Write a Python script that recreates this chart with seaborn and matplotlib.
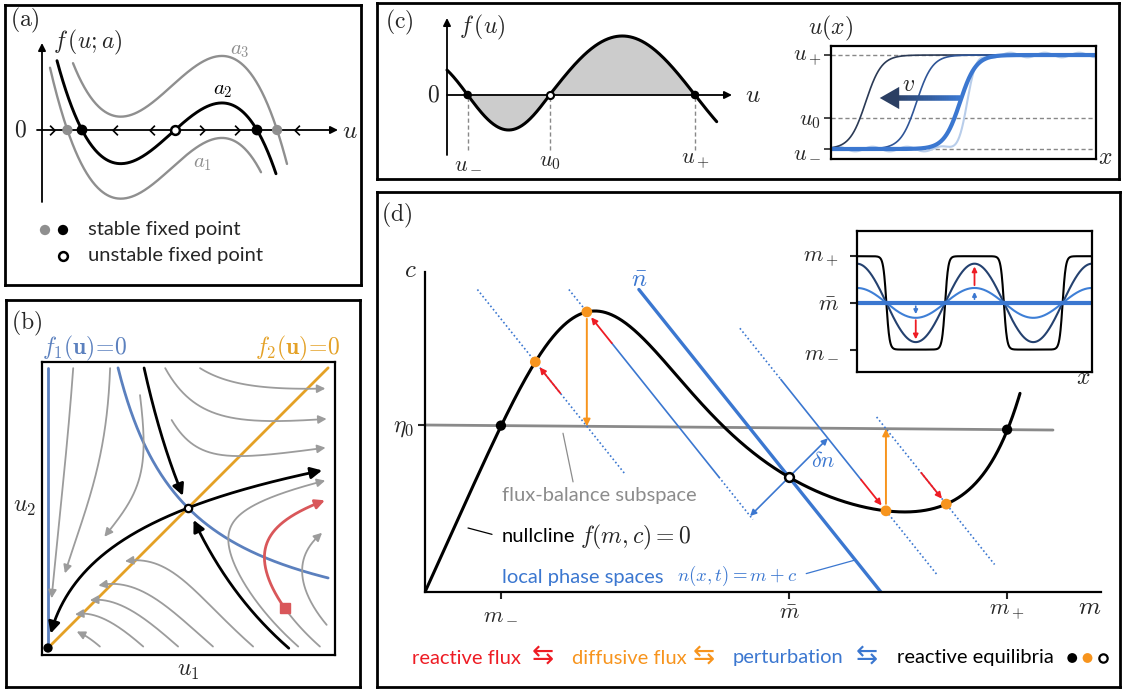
import numpy as np
import matplotlib
matplotlib.use("Agg")
import matplotlib.pyplot as plt
from matplotlib.path import Path
from matplotlib.collections import LineCollection
from matplotlib.colors import to_rgb
import seaborn as sns

# ---------------- values ----------------
# (a) f(u;a) = -k (u-r1)(u-r2)(u-r3) + a
cubic_roots = [40.0, 133.0, 215.0]
cubic_gain = 1.175e-4
a_values = [-35.0, 0.0, 47.0]                 # a1, a2, a3
a_ranges = [(8, 219), (15, 234), (31, 245)]
flow_marks = [10, 73, 110, 160, 195, 255]

# (b) phase plane, f1 = a u1 (u1 u2 - s^2), f2 = b (u1 - u2)
rate_a, rate_b = 5.0, 1.0
saddle = 0.478
gray_starts = [(0.086, 0.955), (0.212, 0.955), (0.314, 0.863),
               (0.519, 0.955), (0.400, 0.955), (0.422, 0.778),
               (0.177, 0.005), (0.325, 0.005), (0.444, 0.005), (0.563, 0.005), (0.700, 0.005),
               (0.854, 0.005), (0.951, 0.079)]
gray_stops = [(1, -1, 0.17), (1, -1, 0.255), (1, -1, 0.38),
              (0, 1, 0.945), (0, 1, 0.945), (0, 1, 0.945),
              (0, -1, 0.098), (0, -1, 0.092), (0, -1, 0.143), (0, -1, 0.172), (0, -1, 0.263),
              (0, 1, 0.945), (0, 1, 0.934)]
red_start = (0.928, 0.005)
red_switch_u2 = 0.135
red_stop = (0, 1, 0.945)

# (c) bistable f(u) and travelling fronts
c_roots = [20.7, 102.6, 248.0]               # u-, u0, u+
c_humps = [-35.0, 59.0]
front_centers = [0.131, 0.323, 0.487]
front_width = 0.06
u_levels = [0.0, 0.33, 1.0]                   # u-, u0, u+

# (d) nullcline c*(m) = A m/(1+(m/L)^4) + b m + C exp((m-m1)/s)
null_A, null_L, null_b = 1.7246, 2.21, 0.045
null_C, null_m1, null_s = 0.843, 5.83, 0.41
eta0, eta_slope = 1.336, -0.0064
m_bar = 3.64
delta_n = 0.70
red_len = 0.25
inset_amps = [0.0, 0.32, 0.84]
inset_steep = 6.0

# ---------------- style ----------------
W, H = 1125, 690
sns.set_style("white")
plt.rcParams["font.family"] = ["Lato", "DejaVu Sans"]
plt.rcParams["mathtext.fontset"] = "cm"

GRAY = "#8f8f8f"
BLUE_B, ORANGE_B, RED_B, GRAY_B = "#5b80be", "#e4a126", "#d9575a", "#9c9c9c"
BLUE, ORANGE, RED = "#3b77d0", "#f7941d", "#ee1c24"

fig = plt.figure(figsize=(W / 100, H / 100), dpi=100)


def pbox(x0, y0, x1, y1):
    return [x0 / W, 1 - y1 / H, (x1 - x0) / W, (y1 - y0) / H]


def ftext(x, y, s, **kw):
    kw.setdefault("ha", "center")
    kw.setdefault("va", "center")
    return fig.text(x / W, 1 - y / H, s, **kw)


def panel(x0, y0, x1, y1, lw=2.0):
    ax = fig.add_axes(pbox(x0, y0, x1, y1))
    ax.set_xticks([])
    ax.set_yticks([])
    for sp in ax.spines.values():
        sp.set_visible(True)
        sp.set_linewidth(lw)
        sp.set_color("black")
    return ax


def arrow(ax, tip, tail, color, lw=1.2, ms=10, sA=0, sB=0):
    ax.annotate("", xy=tip, xytext=tail,
                arrowprops=dict(arrowstyle="-|>", color=color, lw=lw, mutation_scale=ms,
                                shrinkA=sA, shrinkB=sB))


def line(ax, x, y, **kw):
    sns.lineplot(x=np.asarray(x), y=np.asarray(y), sort=False, estimator=None, ax=ax, **kw)


# ================= (a) =================
axA = panel(5, 5, 361, 285)


def f_a(u, a):
    r1, r2, r3 = cubic_roots
    return -cubic_gain * (u - r1) * (u - r2) * (u - r3) + a


arrow(axA, (296, 0), (-5, 0), "black", lw=1.3, ms=11)
arrow(axA, (0, 87), (0, -72), "black", lw=1.3, ms=11)

for a, (lo, hi), col, lw in zip(a_values, a_ranges, [GRAY, "black", GRAY], [1.7, 2.1, 1.7]):
    u = np.linspace(lo, hi, 300)
    line(axA, u, f_a(u, a), color=col, lw=lw)

chev_r = Path([(-0.5, 1), (0.5, 0), (-0.5, -1)], [Path.MOVETO, Path.LINETO, Path.LINETO])
chev_l = Path([(0.5, 1), (-0.5, 0), (0.5, -1)], [Path.MOVETO, Path.LINETO, Path.LINETO])
marks = np.array(flow_marks, float)
for um, d in zip(marks, np.sign(f_a(marks, 0.0))):
    axA.plot(um, 0, marker=chev_r if d > 0 else chev_l, ms=7, mfc="none", mec="black",
             mew=1.2, ls="none", zorder=4)


def real_roots(a):
    coeffs = -cubic_gain * np.poly(cubic_roots)
    coeffs[-1] += a
    r = np.roots(coeffs)
    return np.sort(r[np.abs(r.imag) < 1e-6].real)


gray_fp = np.concatenate([real_roots(a_values[0]), real_roots(a_values[2])])
black_fp = real_roots(a_values[1])
sns.scatterplot(x=gray_fp, y=np.zeros_like(gray_fp), s=55, color=GRAY, edgecolor="none", zorder=6, ax=axA)
sns.scatterplot(x=black_fp[[0, 2]], y=[0, 0], s=60, color="black", edgecolor="none", zorder=6, ax=axA)
sns.scatterplot(x=black_fp[[1]], y=[0], s=40, color="white", edgecolor="black", linewidth=1.8, zorder=6, ax=axA)

axA.text(161, -33, "$a_1$", color=GRAY, fontsize=15, ha="center", va="center")
axA.text(181, 40, "$a_2$", color="black", fontsize=15, ha="center", va="center")
axA.text(198, 80, "$a_3$", color=GRAY, fontsize=15, ha="center", va="center")
axA.text(11, 88, "$f\\,(u;a)$", fontsize=17, ha="left", va="center")
axA.text(-22, 0, "$0$", fontsize=17, ha="center", va="center")
axA.text(300, 0, "$u$", fontsize=18, ha="left", va="center")

sns.scatterplot(x=[3, 21], y=[-100, -100], s=55, color=[GRAY, "black"], edgecolor="none", ax=axA)
sns.scatterplot(x=[21], y=[-126], s=40, color="white", edgecolor="black", linewidth=1.8, ax=axA)
axA.text(46, -100, "stable fixed point", fontsize=14.5, ha="left", va="center")
axA.text(46, -126, "unstable fixed point", fontsize=14.5, ha="left", va="center")
axA.set_xlim(-37, 319)
axA.set_ylim(-155, 125)
ftext(25, 20, "$\\mathrm{(a)}$", fontsize=17)

# ================= (b) =================
panel(6, 300, 360, 687)
axB = panel(42, 362, 335, 655, lw=1.6)


def flow(p):
    return np.array([rate_a * p[0] * (p[0] * p[1] - saddle ** 2), rate_b * (p[0] - p[1])])


def rk4(p, h):
    k1 = flow(p)
    k2 = flow(p + h / 2 * k1)
    k3 = flow(p + h / 2 * k2)
    k4 = flow(p + h * k3)
    return p + h / 6 * (k1 + 2 * k2 + 2 * k3 + k4)


def stop_at(axis, direction, value):
    return lambda q, dq: direction * (q[axis] - value) >= 0 and direction * dq[axis] > 0


def trace(start, stop, h=0.003, nmax=10000):
    pts = [np.asarray(start, float)]
    for _ in range(nmax):
        q = rk4(pts[-1], h)
        pts.append(q)
        if stop(q, q - pts[-2]):
            break
    return np.array(pts)


def draw_traj(ax, pts, color, lw, head, back=0.03):
    d = np.hypot(*(pts - pts[-1]).T)
    k = int(np.argmax(d < back))
    line(ax, pts[:k + 1, 0], pts[:k + 1, 1], color=color, lw=lw)
    arrow(ax, pts[-1], pts[k], color, lw=lw, ms=head)


top = 0.956
line(axB, [0, 0], [0, top], color=BLUE_B, lw=2.0)
hyp = np.linspace(saddle ** 2 / top, top, 200)
line(axB, hyp, saddle ** 2 / hyp, color=BLUE_B, lw=2.0)
line(axB, [0, top], [0, top], color=ORANGE_B, lw=2.0)

for start, stop in zip(gray_starts, gray_stops):
    draw_traj(axB, trace(start, stop_at(*stop)), GRAY_B, 1.3, 12)

red_path = trace(red_start, stop_at(*red_stop))
split = int(np.argmax(red_path[:, 1] >= red_switch_u2))
line(axB, red_path[:split + 1, 0], red_path[:split + 1, 1], color=GRAY_B, lw=1.3)
draw_traj(axB, red_path[split:], RED_B, 2.0, 14)
axB.plot(*red_path[split], marker="s", ms=6.5, color=RED_B, zorder=5)

jac = np.array([[rate_a * saddle ** 2, rate_a * saddle ** 2], [rate_b, -rate_b]])
evals, evecs = np.linalg.eig(jac)
v_unst = evecs[:, np.argmax(evals)]
v_stab = evecs[:, np.argmin(evals)]
sp = np.array([saddle, saddle])
for sgn in (1, -1):
    v = sgn * v_stab * (1 if v_stab[1] > 0 else -1)
    stop = stop_at(1, 1, 0.955) if sgn > 0 else stop_at(1, -1, 0.0)
    pts = trace(sp + 1e-4 * v, stop, h=-0.003)[::-1]
    pts = pts[np.hypot(*(pts - sp).T) > 0.045]
    draw_traj(axB, pts, "black", 2.0, 17)
for sgn in (1, -1):
    v = sgn * v_unst * (1 if v_unst[0] > 0 else -1)
    stop = stop_at(0, 1, 0.934) if sgn > 0 else (lambda q, dq: np.hypot(*q) < 0.05)
    draw_traj(axB, trace(sp + 1e-4 * v, stop), "black", 2.0, 17)

sns.scatterplot(x=[0], y=[0], s=45, color="black", edgecolor="none", zorder=6, ax=axB)
sns.scatterplot(x=[saddle], y=[saddle], s=28, color="white", edgecolor="black", linewidth=1.6, zorder=6, ax=axB)
axB.set_xlim(-0.0205, 0.9795)
axB.set_ylim(-0.0239, 0.976)
axB.set_xticks([])
axB.set_yticks([])
ftext(27, 323, "$\\mathrm{(b)}$", fontsize=17)
ftext(42, 348, "$f_1(\\mathbf{u})\\!=\\!0$", color=BLUE_B, fontsize=17, ha="left")
ftext(340, 348, "$f_2(\\mathbf{u})\\!=\\!0$", color=ORANGE_B, fontsize=17, ha="right")
ftext(25, 508, "$u_2$", fontsize=17)
ftext(188, 672, "$u_1$", fontsize=17)

# ================= (c) =================
axC = panel(377, 3, 1119, 179)
u = np.linspace(0, 269.7, 500)
seg = np.where(u < c_roots[1], 0, 1)
lo = np.array(c_roots)[seg]
hi = np.array(c_roots)[seg + 1]
fu = np.array(c_humps)[seg] * np.sin(np.pi * (u - lo) / (hi - lo))
axC.fill_between(u, fu, 0, where=(u >= c_roots[0]) & (u <= c_roots[2]), color="#cccccc", lw=0)
arrow(axC, (285, 0), (0, 0), "black", lw=1.3, ms=11)
arrow(axC, (0, 77), (0, -60), "black", lw=1.3, ms=11)
line(axC, u, fu, color="black", lw=2.2)
axC.vlines(c_roots, -55, 0, colors="#888888", linestyles=(0, (3, 2)), lw=1.0)
sns.scatterplot(x=[c_roots[0], c_roots[2]], y=[0, 0], s=38, color="black", edgecolor="none", zorder=6, ax=axC)
sns.scatterplot(x=[c_roots[1]], y=[0], s=26, color="white", edgecolor="black", linewidth=1.5, zorder=6, ax=axC)
for r, lab in zip(c_roots, ["$u_-$", "$u_0$", "$u_+$"]):
    axC.text(r, -67, lab, fontsize=16, ha="center", va="center")
axC.text(-14, 0, "$0$", fontsize=17, ha="center", va="center")
axC.text(298, 0, "$u$", fontsize=18, ha="left", va="center")
axC.text(12, 68, "$f\\,(u)$", fontsize=17, ha="left", va="center")
axC.set_xlim(-70, 672)
axC.set_ylim(-84, 92)
ftext(399, 22, "$\\mathrm{(c)}$", fontsize=17)

axU = panel(831, 46, 1096, 159, lw=1.6)
x = np.linspace(0, 1, 600)
axU.hlines(u_levels, 0, 1, colors="#888888", linestyles=(0, (3, 2)), lw=1.0)
ripple = 0.025 * np.sin(2 * np.pi * (x - 0.514) / 0.13)
line(axU, x, (1 + np.tanh((x - 0.514) / 0.035)) / 2 + ripple, color="#b8cdea", lw=1.5)
for xc, col, lw in zip(front_centers, ["#2b3a55", "#2f5597", BLUE], [1.2, 1.2, 3.0]):
    line(axU, x, (1 + np.tanh((x - xc) / front_width)) / 2, color=col, lw=lw)
shaft = np.linspace(0.487, 0.225, 40)
c0, c1 = np.array(to_rgb(BLUE)), np.array(to_rgb("#2b3f63"))
cols = [c0 + (c1 - c0) * t for t in np.linspace(0, 1, len(shaft) - 1)]
segs = [[(shaft[i], 0.543), (shaft[i + 1], 0.543)] for i in range(len(shaft) - 1)]
axU.add_collection(LineCollection(segs, colors=cols, lw=4.0, capstyle="butt"))
axU.annotate("", xy=(0.184, 0.543), xytext=(0.23, 0.543),
             arrowprops=dict(arrowstyle="-|>,head_length=0.7,head_width=0.4", color="#2b3f63",
                             lw=0, mutation_scale=20, shrinkA=0, shrinkB=0))
axU.text(0.294, 0.69, "$v$", fontsize=17, ha="center", va="center")
axU.set_xlim(0, 1)
axU.set_ylim(-0.106, 1.096)
axU.set_yticks(u_levels)
axU.set_yticklabels(["$u_-$", "$u_0$", "$u_+$"], fontsize=16)
axU.tick_params(axis="y", left=True, direction="out", length=5, width=1.2, pad=2)
ftext(831, 28, "$u(x)$", fontsize=17)
ftext(1105, 157, "$x$", fontsize=17)

# ================= (d) =================
panel(377, 192, 1120, 687)
axD = fig.add_axes(pbox(425, 272, 1101, 592))
axD.patch.set_alpha(0)
for side in ("top", "right"):
    axD.spines[side].set_visible(False)
for side in ("left", "bottom"):
    axD.spines[side].set_linewidth(1.6)
    axD.spines[side].set_color("black")


def nullcline(m):
    return (null_A * m / (1 + (m / null_L) ** 4) + null_b * m
            + null_C * np.exp((m - null_m1) / null_s))


def eta(m):
    return eta0 + eta_slope * m


m_grid = np.linspace(0, 5.95, 1200)
c_grid = nullcline(m_grid)
n_grid = m_grid + c_grid


def point_on(n):
    m = np.interp(n, n_grid, m_grid)
    return m, nullcline(m)


diff = c_grid - eta(m_grid)
cross = np.where(np.diff(np.sign(diff)) != 0)[0]
m_minus, m_plus = m_grid[cross[0]], m_grid[cross[-1]]

c_bar = nullcline(m_bar)
n_bar = m_bar + c_bar
m2, c2 = point_on(n_bar - delta_n)
m3, c3 = point_on(n_bar + delta_n)
n1 = m2 + eta(m2)
n4 = m3 + eta(m3)
m1, c1 = point_on(n1)
m4, c4 = point_on(n4)

mg = np.linspace(0, 6.28, 2)
line(axD, mg, eta(mg), color="#8a8a8a", lw=2.0)


def n_seg(n, c_top, c_bot, dotted=True, lw=1.2):
    c = np.array([c_top, c_bot])
    line(axD, n - c, c, color=BLUE, lw=lw, linestyle=(0, (1, 1.5)) if dotted else "-")


n_seg(n1, 2.42, 0.95)
n_seg(n_bar - delta_n, 2.42, c2)
n_seg(n_bar - delta_n, c2 - red_len, 0.92, dotted=False)
n_seg(n_bar - delta_n, 0.92, 0.58)
n_seg(n_bar, 2.42, 0.0, dotted=False, lw=2.4)
n_seg(n_bar + delta_n, 2.11, 1.70)
n_seg(n_bar + delta_n, 1.70, c3 + red_len, dotted=False)
n_seg(n_bar + delta_n, c3, 0.14)
n_seg(n4, 1.40, 0.22)

line(axD, m_grid, c_grid, color="black", lw=2.2)

for (m, c), sgn in zip([(m1, c1), (m2, c2), (m3, c3), (m4, c4)], [1, 1, -1, -1]):
    arrow(axD, (m, c), (m + sgn * red_len, c - sgn * red_len), RED, lw=1.3, ms=9, sB=5)
arrow(axD, (m2, eta(m2)), (m2, c2), ORANGE, lw=1.4, ms=10, sA=5)
arrow(axD, (m3, eta(m3)), (m3, c3), ORANGE, lw=1.4, ms=10, sA=5)
t = delta_n / 2.25
for sgn in (1, -1):
    arrow(axD, (m_bar + sgn * 1.25 * t, c_bar + sgn * t), (m_bar, c_bar), BLUE, lw=1.2, ms=9, sA=4)

sns.scatterplot(x=[m_minus, m_plus], y=eta(np.array([m_minus, m_plus])), s=55, color="black",
                edgecolor="none", zorder=6, ax=axD)
sns.scatterplot(x=[m1, m2, m3, m4], y=[c1, c2, c3, c4], s=60, color=ORANGE, edgecolor="none",
                zorder=6, ax=axD)
sns.scatterplot(x=[m_bar], y=[c_bar], s=40, color="white", edgecolor="black", linewidth=1.8,
                zorder=6, ax=axD)

axD.annotate("flux-balance subspace", xy=(1.38, 1.27), xytext=(0.77, 0.776), ha="left", va="center",
             color="#8c8c8c", fontsize=14.5,
             arrowprops=dict(arrowstyle="-", color="#8c8c8c", lw=0.9, relpos=(0.37, 1.0), shrinkA=1, shrinkB=0))
axD.annotate("nullcline", xy=(0.43, 0.512), xytext=(0.77, 0.44), ha="left", va="center",
             color="black", fontsize=14.5,
             arrowprops=dict(arrowstyle="-", color="black", lw=0.9, relpos=(0, 0.5), shrinkA=5, shrinkB=0))
axD.text(1.55, 0.44, "$f(m,c)=0$", fontsize=17, ha="left", va="center")
axD.text(0.77, 0.12, "local phase spaces", color=BLUE, fontsize=14.5, ha="left", va="center")
axD.annotate("$n(x,t)=m+c$", xy=(n_bar - 0.256, 0.256), xytext=(2.52, 0.128), ha="left", va="center",
             color=BLUE, fontsize=13.5,
             arrowprops=dict(arrowstyle="-", color=BLUE, lw=0.9, relpos=(1, 0.5), shrinkA=4, shrinkB=0))
axD.text(-0.15, 2.58, "$c$", fontsize=18, ha="center", va="center")
axD.text(6.65, -0.12, "$m$", fontsize=18, ha="center", va="center")
axD.text(n_bar - 2.42, 2.51, "$\\bar{n}$", color=BLUE, fontsize=18, ha="center", va="center")
axD.text(m_bar + 0.34, 1.05, "$\\delta n$", color=BLUE, fontsize=16, ha="center", va="center")

axD.set_xlim(0, 6.76)
axD.set_ylim(0, 2.56)
axD.set_xticks([m_minus, m_bar, m_plus])
axD.set_xticklabels(["$m_-$", "$\\bar{m}$", "$m_+$"], fontsize=16)
axD.set_yticks([eta0])
axD.set_yticklabels(["$\\eta_0$"], fontsize=17)
axD.tick_params(bottom=True, left=True, direction="out", length=5, width=1.5, pad=3)
ftext(397, 215, "$\\mathrm{(d)}$", fontsize=17)

axI = panel(857, 231, 1092, 372, lw=1.6)
xi = np.linspace(0, 2, 800)
line(axI, xi, np.tanh(inset_steep * np.cos(2 * np.pi * xi)) / np.tanh(inset_steep), color="black", lw=1.5)
for amp, col, lw in zip(inset_amps[::-1], ["#24416f", "#3e7fd6", BLUE], [1.5, 1.5, 3.0]):
    line(axI, xi, amp * np.cos(2 * np.pi * xi), color=col, lw=lw)
arrow(axI, (1.0, 0.78), (1.0, 0.38), RED, lw=1.3, ms=7)
arrow(axI, (1.0, 0.235), (1.0, 0.08), BLUE, lw=1.2, ms=6)
arrow(axI, (0.5, -0.24), (0.5, -0.07), BLUE, lw=1.2, ms=6)
arrow(axI, (0.5, -0.78), (0.5, -0.37), RED, lw=1.3, ms=7)
axI.set_xlim(0, 2)
axI.set_ylim(-1.48, 1.54)
axI.set_yticks([1, 0, -1])
axI.set_yticklabels(["$m_+$", "$\\bar{m}$", "$m_-$"], fontsize=16)
axI.tick_params(axis="y", left=True, direction="out", length=5, width=1.5, pad=8)
ftext(1083, 378, "$x$", fontsize=17)

# legend row of (d)
ftext(412, 658, "reactive flux", color=RED, fontsize=14.5, ha="left")
ftext(543, 657, "\u21c6", color=RED, fontsize=19, family="DejaVu Sans")
ftext(572, 658, "diffusive flux", color=ORANGE, fontsize=14.5, ha="left")
ftext(704, 657, "\u21c6", color=ORANGE, fontsize=19, family="DejaVu Sans")
ftext(733, 658, "perturbation", color=BLUE, fontsize=14.5, ha="left")
ftext(867, 657, "\u21c6", color=BLUE, fontsize=19, family="DejaVu Sans")
ftext(897, 658, "reactive equilibria", color="black", fontsize=14.5, ha="left")
axL = fig.add_axes(pbox(1060, 648, 1112, 668))
axL.axis("off")
sns.scatterplot(x=[0, 1], y=[0, 0], s=50, color=["black", ORANGE], edgecolor="none", ax=axL)
sns.scatterplot(x=[2], y=[0], s=36, color="white", edgecolor="black", linewidth=1.6, ax=axL)
axL.set_xlim(-0.8, 2.6)
axL.set_ylim(-1, 1)

fig.savefig("out.png", dpi=100)
